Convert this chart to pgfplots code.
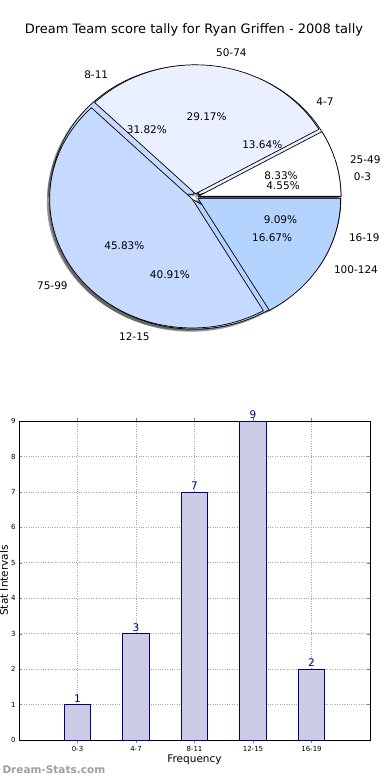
\documentclass[border=0pt]{standalone}
\usepackage{pgfplots}
\pgfplotsset{compat=1.18}
\usepackage{fontspec}
\setmainfont{DejaVu Sans}
\definecolor{pA}{HTML}{EAF0FF}
\definecolor{pB}{HTML}{C6D9FF}
\definecolor{pC}{HTML}{B4D4FF}
\definecolor{pD}{HTML}{A3C6F5}
\definecolor{navyc}{HTML}{000080}
\definecolor{barfill}{HTML}{CCCCE6}
\newcommand\pieRx{142.5bp}
\newcommand\pieRy{129bp}
\newcommand\plabfont{\fontsize{10.5bp}{12bp}\selectfont}
% pie data: value/label/colour
\newcommand\pieOne{1/0-3/white,3/4-7/pA,7/8-11/pB,9/12-15/pC,2/16-19/pD}
\newcommand\pieTwo{2/25-49/white,7/50-74/pA,11/75-99/pB,4/100-124/pC}
\newcommand\piepart[4]{% #1 list, #2 total, #3 explode, #4 mode
  \xdef\cum{0}%
  \foreach \v/\lab/\col in #1 {%
    \pgfmathsetmacro\wa{\cum}%
    \pgfmathsetmacro\wb{\cum+360*\v/#2}%
    \pgfmathsetmacro\wm{(\wa+\wb)/2}%
    \pgfmathsetmacro\cx{#3*cos(\wm)}%
    \pgfmathsetmacro\cy{#3*sin(\wm)}%
    \ifcase#4
      \pgfmathsetmacro\sx{\cx-0.02}\pgfmathsetmacro\sy{\cy-0.02}%
      \pgfmathsetmacro\px{\sx+cos(\wa)}\pgfmathsetmacro\py{\sy+sin(\wa)}%
      \fill[black!75,opacity=0.55] (axis cs:\sx,\sy) -- (axis cs:\px,\py) arc[start angle=\wa,end angle=\wb,x radius=\pieRx,y radius=\pieRy] -- cycle;%
    \or
      \pgfmathsetmacro\px{\cx+cos(\wa)}\pgfmathsetmacro\py{\cy+sin(\wa)}%
      \filldraw[fill=\col,draw=black,line width=0.7bp,line join=round] (axis cs:\cx,\cy) -- (axis cs:\px,\py) arc[start angle=\wa,end angle=\wb,x radius=\pieRx,y radius=\pieRy] -- cycle;%
    \or
      \pgfmathsetmacro\lx{\cx+1.1*cos(\wm)}\pgfmathsetmacro\ly{\cy+1.1*sin(\wm)}%
      \pgfmathsetmacro\wc{cos(\wm)}%
      \ifdim\wc pt<0pt \def\anc{east}\else\def\anc{west}\fi
      \node[anchor=\anc,font=\plabfont,inner sep=0pt] at (axis cs:\lx,\ly) {\lab};%
      \pgfmathsetmacro\qx{\cx+0.6*cos(\wm)}\pgfmathsetmacro\qy{\cy+0.6*sin(\wm)}%
      \pgfmathsetmacro\pct{100*\v/#2}%
      \node[font=\plabfont,inner sep=0pt] at (axis cs:\qx,\qy) {\pgfmathprintnumber[fixed,fixed zerofill,precision=2,assume math mode=true]{\pct}\%};%
    \fi
    \xdef\cum{\wb}%
  }%
}
\begin{document}
\begin{tikzpicture}
\useasboundingbox (0,0) rectangle (390bp,-780bp);
\node[font=\fontsize{13bp}{15bp}\selectfont] at (194bp,-30bp) {Dream Team score tally for Ryan Griffen - 2008 tally};
\begin{axis}[hide axis, x=142.5bp, y=129bp, xmin=-1.3, xmax=1.3, ymin=-1.3, ymax=1.3,
  anchor=center, at={(195bp,-197bp)}, clip=false]
\pgfplotsextra{%
  \piepart{\pieOne}{22}{0.025}{0}%
  \piepart{\pieTwo}{24}{0.025}{0}%
  \piepart{\pieOne}{22}{0.025}{1}%
  \piepart{\pieTwo}{24}{0.025}{1}%
  \piepart{\pieOne}{22}{0.025}{2}%
  \piepart{\pieTwo}{24}{0.025}{2}%
}
\end{axis}
\begin{axis}[at={(19bp,-740bp)}, anchor=south west, scale only axis,
  width=351bp, height=319bp,
  xmin=-1, xmax=5, ymin=0, ymax=9,
  xtick={0,...,4}, xticklabels={0-3,4-7,8-11,12-15,16-19},
  ytick={0,...,9},
  /pgf/number format/assume math mode=true,
  tick label style={font=\fontsize{7bp}{8bp}\selectfont},
  label style={font=\fontsize{10.5bp}{12bp}\selectfont},
  xlabel={Frequency}, ylabel={Stat Intervals},
  xlabel style={at={(axis description cs:0.5,-0.0627)}, anchor=center},
  ylabel style={at={(axis description cs:-0.043,0.5)}, anchor=center},
  grid=major, grid style={dotted, line width=0.6bp, black!35},
  tick align=inside, tick pos=both, major tick length=3bp,
  axis line style={line width=0.8bp},
  ybar, bar width=0.45,
  nodes near coords,
  nodes near coords style={font=\fontsize{10.5bp}{12bp}\selectfont, text=navyc, inner sep=2bp}]
\addplot[fill=barfill, draw=navyc, line width=0.7bp] coordinates {(0,1) (1,3) (2,7) (3,9) (4,2)};
\end{axis}
\node[anchor=west, font=\fontsize{10.5bp}{12bp}\selectfont\bfseries, text=black!38] at (-1bp,-770bp) {Dream-Stats.com};
\end{tikzpicture}
\end{document}
